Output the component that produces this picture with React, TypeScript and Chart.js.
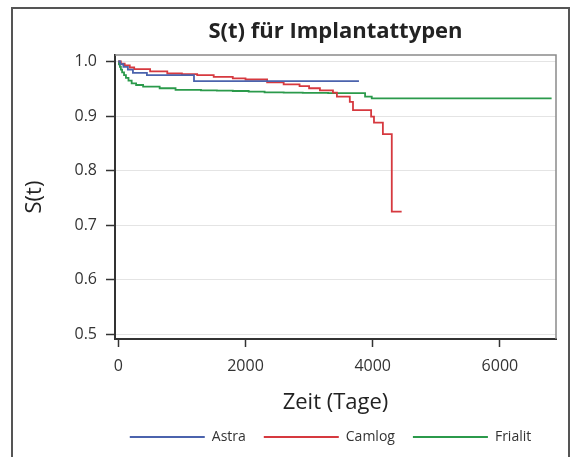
import React, { useEffect, useRef } from "react";
import { Chart, registerables } from "chart.js";

Chart.register(...registerables);

const FONT = "Open Sans";

const chartTitle = "S(t) für Implantattypen";
const xAxisTitle = "Zeit (Tage)";
const yAxisTitle = "S(t)";

const seriesNames = ["Astra", "Camlog", "Frialit"];
const seriesColors = ["#4b63ad", "#d6393f", "#2b9a4b"];

const astraDays = [0, 30, 80, 150, 230, 450, 1190, 3784];
const astraSurv = [1.0, 0.995, 0.99, 0.985, 0.979, 0.975, 0.964, 0.964];

const camlogDays = [0, 40, 100, 180, 250, 500, 770, 1000, 1240, 1500, 1800, 2000, 2340, 2600, 2850, 3000, 3170, 3375, 3437, 3640, 3690, 3975, 4020, 4160, 4300, 4455];
const camlogSurv = [1.0, 0.996, 0.993, 0.989, 0.986, 0.982, 0.978, 0.977, 0.975, 0.972, 0.969, 0.967, 0.962, 0.958, 0.955, 0.951, 0.947, 0.943, 0.9355, 0.926, 0.911, 0.899, 0.888, 0.867, 0.725, 0.725];

const frialitDays = [0, 10, 25, 40, 60, 90, 120, 160, 210, 280, 390, 650, 900, 1300, 1550, 1800, 2050, 2300, 2600, 2900, 3300, 3880, 3985, 6813];
const frialitSurv = [1.0, 0.995, 0.99, 0.985, 0.98, 0.975, 0.97, 0.965, 0.96, 0.957, 0.954, 0.951, 0.948, 0.947, 0.9465, 0.946, 0.945, 0.9435, 0.943, 0.9425, 0.942, 0.9355, 0.9326, 0.9326];

const xTicks = [0, 2000, 4000, 6000];
const yTicks = [0.5, 0.6, 0.7, 0.8, 0.9, 1.0];
const xMin = -52;
const xMax = 6882;
const yMin = 0.4918;
const yMax = 1.0119;

const allDays = [astraDays, camlogDays, frialitDays];
const allSurv = [astraSurv, camlogSurv, frialitSurv];

const framePlugin = {
  id: "plotFrame",
  afterLayout(chart: any) {
    if (chart.legend) {
      chart.legend.left -= 5;
      chart.legend.right -= 5;
    }
  },
  beforeDatasetsDraw(chart: any) {
    const { ctx, chartArea } = chart;
    const { left, top, right, bottom } = chartArea;
    ctx.save();
    ctx.strokeStyle = "#8a8a8a";
    ctx.lineWidth = 1.5;
    ctx.beginPath();
    ctx.moveTo(left, top);
    ctx.lineTo(right, top);
    ctx.lineTo(right, bottom);
    ctx.stroke();
    ctx.restore();
  },
};

export default function App() {
  const ref = useRef<HTMLCanvasElement>(null);

  useEffect(() => {
    const datasets = seriesNames.map((name, i) => ({
      label: name,
      data: allDays[i].map((d, j) => ({ x: d, y: allSurv[i][j] })),
      borderColor: seriesColors[i],
      backgroundColor: seriesColors[i],
      borderWidth: 1.8,
      pointRadius: 0,
      stepped: "before" as const,
      fill: false,
    }));

    const chart = new Chart(ref.current!, {
      type: "line",
      data: { datasets },
      plugins: [framePlugin],
      options: {
        animation: false,
        responsive: false,
        events: [],
        layout: { padding: { left: 0, right: 18, top: 0, bottom: 3 } },
        plugins: {
          title: {
            display: true,
            text: chartTitle,
            fullSize: false,
            color: "#222",
            font: { family: FONT, size: 22, weight: "bold" },
            padding: { top: 18.8, bottom: 9.8 },
          },
          legend: {
            display: true,
            position: "bottom",
            fullSize: false,
            labels: {
              boxWidth: 75,
              boxHeight: 2,
              padding: 18,
              color: "#333",
              font: { family: FONT, size: 14 },
              generateLabels: (c: any) =>
                Chart.defaults.plugins.legend.labels
                  .generateLabels(c)
                  .map((l: any) => ({ ...l, fillStyle: l.strokeStyle, lineWidth: 0 })),
            },
          },
          tooltip: { enabled: false },
        },
        scales: {
          x: {
            type: "linear",
            min: xMin,
            max: xMax,
            afterBuildTicks: (a: any) => {
              a.ticks = xTicks.map((v) => ({ value: v }));
            },
            afterFit: (s: any) => {
              s.height = 73;
            },
            ticks: {
              callback: (v: any) => String(v),
              color: "#333",
              font: { family: FONT, size: 16 },
              padding: 10,
              maxRotation: 0,
            },
            grid: {
              drawOnChartArea: false,
              drawTicks: true,
              tickLength: 8,
              tickColor: "#333",
              tickWidth: 1.5,
            },
            border: { color: "#333", width: 2 },
            title: {
              display: true,
              text: xAxisTitle,
              color: "#222",
              font: { family: FONT, size: 22 },
              padding: { top: 0, bottom: -4.2 },
            },
          },
          y: {
            type: "linear",
            min: yMin,
            max: yMax,
            afterBuildTicks: (a: any) => {
              a.ticks = yTicks.map((v) => ({ value: v }));
            },
            afterFit: (s: any) => {
              s.width = 115;
            },
            ticks: {
              callback: (v: any) => Number(v).toFixed(1),
              color: "#333",
              font: { family: FONT, size: 16 },
              padding: 9,
            },
            grid: {
              color: "#e4e4e4",
              lineWidth: 1,
              tickLength: 9,
              tickColor: "#333",
              tickWidth: 1.5,
            },
            border: { color: "#333", width: 2 },
            title: {
              display: true,
              text: yAxisTitle,
              color: "#222",
              font: { family: FONT, size: 22 },
              padding: { top: 21.8, bottom: 0 },
            },
          },
        },
      } as any,
    });
    return () => chart.destroy();
  }, []);

  return (
    <div
      style={{
        position: "fixed",
        left: 0,
        top: 0,
        width: 574,
        height: 457,
        background: "#fff",
        overflow: "hidden",
      }}
    >
      <canvas
        ref={ref}
        width={574}
        height={457}
        style={{ position: "absolute", left: 0, top: 0, width: 574, height: 457 }}
      />
      <div
        style={{
          position: "absolute",
          left: 11,
          top: 7,
          width: 559,
          height: 480,
          border: "2px solid #555",
          boxSizing: "border-box",
          pointerEvents: "none",
        }}
      />
    </div>
  );
}
